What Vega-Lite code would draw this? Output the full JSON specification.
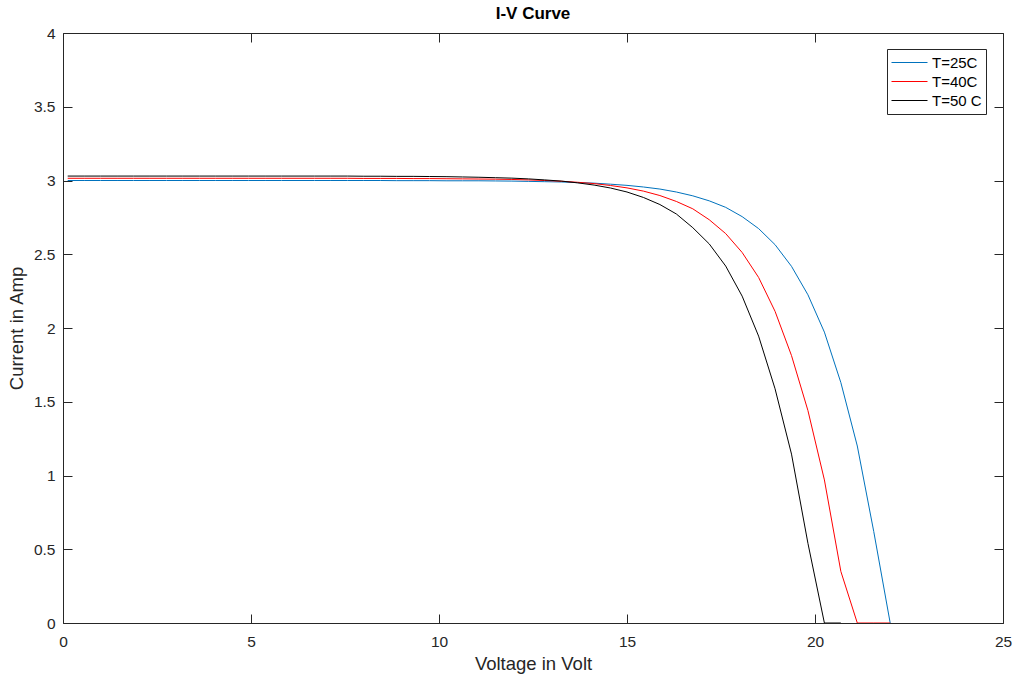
{
  "$schema": "https://vega.github.io/schema/vega-lite/v6.json",
  "width": 940,
  "height": 590,
  "autosize": "none",
  "padding": {"left": 63, "top": 33, "right": 10, "bottom": 56},
  "background": "white",
  "title": {"text": "I-V Curve", "fontSize": 17, "fontWeight": "bold", "font": "Liberation Sans", "color": "#000000", "offset": 3, "anchor": "middle"},
  "data": {"values": [
    {"v": 0.125, "T=25C": 3.000, "T=40C": 3.015, "T=50 C": 3.030},
    {"v": 0.5625, "T=25C": 3.000, "T=40C": 3.015, "T=50 C": 3.030},
    {"v": 1.0, "T=25C": 3.000, "T=40C": 3.015, "T=50 C": 3.030},
    {"v": 1.4375, "T=25C": 3.000, "T=40C": 3.015, "T=50 C": 3.030},
    {"v": 1.875, "T=25C": 3.000, "T=40C": 3.015, "T=50 C": 3.030},
    {"v": 2.3125, "T=25C": 3.000, "T=40C": 3.015, "T=50 C": 3.030},
    {"v": 2.75, "T=25C": 3.000, "T=40C": 3.015, "T=50 C": 3.030},
    {"v": 3.1875, "T=25C": 3.000, "T=40C": 3.015, "T=50 C": 3.030},
    {"v": 3.625, "T=25C": 3.000, "T=40C": 3.015, "T=50 C": 3.030},
    {"v": 4.0625, "T=25C": 3.000, "T=40C": 3.015, "T=50 C": 3.030},
    {"v": 4.5, "T=25C": 3.000, "T=40C": 3.015, "T=50 C": 3.030},
    {"v": 4.9375, "T=25C": 3.000, "T=40C": 3.015, "T=50 C": 3.030},
    {"v": 5.375, "T=25C": 3.000, "T=40C": 3.015, "T=50 C": 3.030},
    {"v": 5.8125, "T=25C": 3.000, "T=40C": 3.015, "T=50 C": 3.030},
    {"v": 6.25, "T=25C": 3.000, "T=40C": 3.015, "T=50 C": 3.030},
    {"v": 6.6875, "T=25C": 3.000, "T=40C": 3.015, "T=50 C": 3.030},
    {"v": 7.125, "T=25C": 3.000, "T=40C": 3.015, "T=50 C": 3.030},
    {"v": 7.5625, "T=25C": 3.000, "T=40C": 3.015, "T=50 C": 3.030},
    {"v": 8.0, "T=25C": 3.000, "T=40C": 3.014, "T=50 C": 3.029},
    {"v": 8.4375, "T=25C": 3.000, "T=40C": 3.014, "T=50 C": 3.029},
    {"v": 8.875, "T=25C": 2.999, "T=40C": 3.014, "T=50 C": 3.028},
    {"v": 9.3125, "T=25C": 2.999, "T=40C": 3.013, "T=50 C": 3.028},
    {"v": 9.75, "T=25C": 2.999, "T=40C": 3.013, "T=50 C": 3.027},
    {"v": 10.1875, "T=25C": 2.998, "T=40C": 3.012, "T=50 C": 3.026},
    {"v": 10.625, "T=25C": 2.998, "T=40C": 3.011, "T=50 C": 3.024},
    {"v": 11.0625, "T=25C": 2.998, "T=40C": 3.010, "T=50 C": 3.022},
    {"v": 11.5, "T=25C": 2.997, "T=40C": 3.009, "T=50 C": 3.019},
    {"v": 11.9375, "T=25C": 2.996, "T=40C": 3.007, "T=50 C": 3.016},
    {"v": 12.375, "T=25C": 2.994, "T=40C": 3.004, "T=50 C": 3.011},
    {"v": 12.8125, "T=25C": 2.992, "T=40C": 3.000, "T=50 C": 3.004},
    {"v": 13.25, "T=25C": 2.990, "T=40C": 2.995, "T=50 C": 2.996},
    {"v": 13.6875, "T=25C": 2.986, "T=40C": 2.988, "T=50 C": 2.984},
    {"v": 14.125, "T=25C": 2.982, "T=40C": 2.979, "T=50 C": 2.969},
    {"v": 14.5625, "T=25C": 2.975, "T=40C": 2.966, "T=50 C": 2.949},
    {"v": 15.0, "T=25C": 2.967, "T=40C": 2.950, "T=50 C": 2.922},
    {"v": 15.4375, "T=25C": 2.956, "T=40C": 2.928, "T=50 C": 2.885},
    {"v": 15.875, "T=25C": 2.942, "T=40C": 2.898, "T=50 C": 2.837},
    {"v": 16.3125, "T=25C": 2.922, "T=40C": 2.858, "T=50 C": 2.773},
    {"v": 16.75, "T=25C": 2.896, "T=40C": 2.808, "T=50 C": 2.680},
    {"v": 17.1875, "T=25C": 2.862, "T=40C": 2.734, "T=50 C": 2.570},
    {"v": 17.625, "T=25C": 2.818, "T=40C": 2.640, "T=50 C": 2.420},
    {"v": 18.0625, "T=25C": 2.755, "T=40C": 2.512, "T=50 C": 2.216},
    {"v": 18.5, "T=25C": 2.674, "T=40C": 2.343, "T=50 C": 1.945},
    {"v": 18.9375, "T=25C": 2.565, "T=40C": 2.113, "T=50 C": 1.588},
    {"v": 19.375, "T=25C": 2.418, "T=40C": 1.813, "T=50 C": 1.145},
    {"v": 19.8125, "T=25C": 2.225, "T=40C": 1.440, "T=50 C": 0.540},
    {"v": 20.25, "T=25C": 1.972, "T=40C": 0.970, "T=50 C": 0.000},
    {"v": 20.6875, "T=25C": 1.630, "T=40C": 0.350, "T=50 C": 0.000},
    {"v": 21.125, "T=25C": 1.200, "T=40C": 0.000, "T=50 C": null},
    {"v": 21.5625, "T=25C": 0.620, "T=40C": 0.000, "T=50 C": null},
    {"v": 22.0, "T=25C": 0.000, "T=40C": 0.000, "T=50 C": null}
  ]},
  "transform": [{"fold": ["T=25C", "T=40C", "T=50 C"], "as": ["series", "current"]}],
  "layer": [
    {
      "mark": {"type": "line", "strokeWidth": 1, "clip": true},
      "encoding": {
        "x": {"field": "v", "type": "quantitative", "title": "Voltage in Volt",
          "scale": {"domain": [0, 25], "nice": false, "zero": false},
          "axis": {"orient": "bottom", "values": [0, 5, 10, 15, 20, 25], "tickSize": -9, "labelPadding": 20, "labelFlush": false, "titlePadding": 5}},
        "y": {"field": "current", "type": "quantitative", "title": "Current in Amp",
          "scale": {"domain": [0, 4], "nice": false, "zero": false},
          "axis": {"orient": "left", "values": [0, 0.5, 1, 1.5, 2, 2.5, 3, 3.5, 4], "format": "~g", "tickSize": -9, "labelPadding": 17, "labelFlush": false, "titlePadding": 7}},
        "color": {"field": "series", "type": "nominal",
          "scale": {"domain": ["T=25C", "T=40C", "T=50 C"], "range": ["#0072BD", "#FF0000", "#000000"]},
          "legend": {"orient": "none", "legendX": 824, "legendY": 16, "title": null, "symbolType": "stroke", "symbolSize": 1296, "symbolStrokeWidth": 1, "clipHeight": 19, "labelFontSize": 15, "labelFont": "Liberation Sans", "labelColor": "#000000", "labelOffset": 4, "padding": 4, "strokeColor": "#262626", "fillColor": "white", "rowPadding": 0}
        }
      }
    },
    {
      "mark": {"type": "line", "opacity": 0},
      "encoding": {
        "x": {"field": "v", "type": "quantitative", "title": null,
          "scale": {"domain": [0, 25], "nice": false, "zero": false},
          "axis": {"orient": "top", "values": [0, 5, 10, 15, 20, 25], "tickSize": -9, "labels": false}},
        "y": {"field": "current", "type": "quantitative", "title": null,
          "scale": {"domain": [0, 4], "nice": false, "zero": false},
          "axis": {"orient": "right", "values": [0, 0.5, 1, 1.5, 2, 2.5, 3, 3.5, 4], "tickSize": -9, "labels": false}}
      }
    }
  ],
  "resolve": {"axis": {"x": "independent", "y": "independent"}},
  "config": {
    "view": {"stroke": "#262626", "strokeWidth": 1},
    "axis": {"domain": false, "grid": false, "tickColor": "#262626", "tickWidth": 1, "labelFont": "Liberation Sans", "labelFontSize": 15.5, "labelColor": "#262626", "titleFont": "Liberation Sans", "titleFontSize": 18.5, "titleFontWeight": "normal", "titleColor": "#262626"},
    "line": {"strokeCap": "butt"}
  }
}
